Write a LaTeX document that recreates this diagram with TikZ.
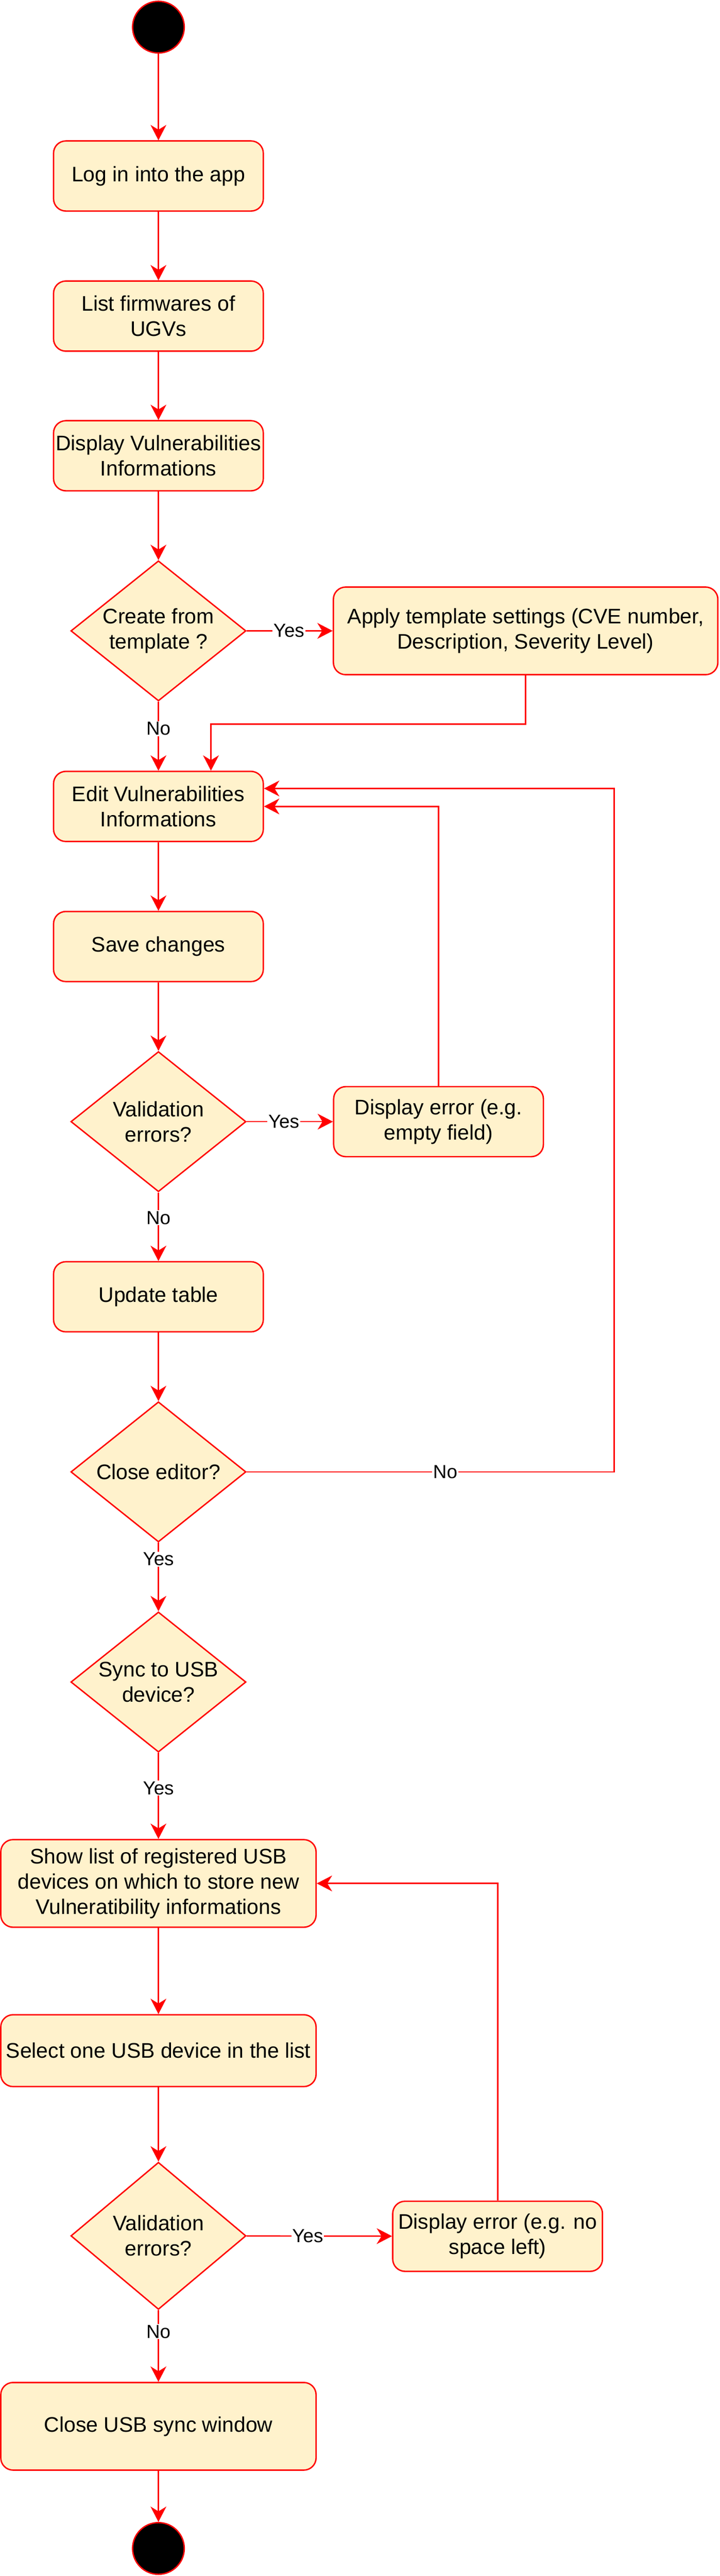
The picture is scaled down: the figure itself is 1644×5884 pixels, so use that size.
\documentclass[tikz,border=0pt]{standalone}
\usepackage{fontspec}
\setmainfont{Liberation Sans}
\usepackage{xcolor}
\usepackage{tikz}
\usetikzlibrary{arrows.meta, shapes.geometric, calc}

\definecolor{actfill}{HTML}{FFF2CC}
\newcommand{\actfont}{\fontsize{13.7pt}{16.4pt}\selectfont}
\newcommand{\lblfont}{\fontsize{12.3pt}{14pt}\selectfont}

\begin{document}
\begin{tikzpicture}[x=0.01cm, y=-0.01cm,
    act/.style={draw=red, fill=actfill, line width=0.9pt, rounded corners=0.28cm, align=center, font=\actfont, inner sep=0pt, minimum width=4.79cm, minimum height=1.6cm},
    wide/.style={act, minimum width=7.2cm},
    decision/.style={diamond, draw=red, fill=actfill, line width=0.9pt, align=center, font=\actfont, inner sep=0pt, aspect=1.25, minimum width=4cm, minimum height=3.2cm},
    terminal/.style={circle, draw=red, fill=black, line width=0.9pt, minimum size=1.18cm, inner sep=0pt},
    flow/.style={draw=red, line width=0.9pt, -{Stealth[length=0.35cm, width=0.36cm, inset=0.11cm]}},
    lbl/.style={fill=white, font=\lblfont, inner sep=0.6pt}]
    \useasboundingbox (0,0) rectangle (1644,5884);

    \node[terminal] (start) at (362,62) {};
    \node[act] (login) at (362,402) {Log in into the app};
    \node[act] (firm) at (362,722) {List firmwares of\\UGVs};
    \node[act] (vulns) at (362,1041) {Display Vulnerabilities\\Informations};
    \node[decision] (tmpl) at (362,1441) {Create from\\template ?};
    \node[act, minimum width=8.78cm, minimum height=2cm] (apply) at (1201,1441) {Apply template settings (CVE number,\\Description, Severity Level)};
    \node[act] (edit) at (362,1842) {Edit Vulnerabilities\\Informations};
    \node[act] (save) at (362,2162) {Save changes};
    \node[decision] (valid) at (362,2562) {Validation\\errors?};
    \node[act] (err) at (1002,2562) {Display error (e.g.\\empty field)};
    \node[act] (update) at (362,2962) {Update table};
    \node[decision] (closeed) at (362,3362) {Close editor?};
    \node[decision] (sync) at (362,3842) {Sync to USB\\device?};
    \node[wide, minimum height=2cm] (usblist) at (362,4302) {Show list of registered USB\\devices on which to store new\\Vulneratibility informations};
    \node[wide, minimum height=1.64cm] (usbsel) at (362,4684) {Select one USB device in the list};
    \node[decision, minimum height=3.36cm] (usbvalid) at (362,5107) {Validation\\errors?};
    \node[act] (usberr) at (1137,5108) {Display error (e.g. no\\space left)};
    \node[wide, minimum height=2cm] (usbclose) at (362,5542) {Close USB sync window};
    \node[terminal] (stop) at (362,5821) {};

    \draw[flow] (start) -- (login);
    \draw[flow] (login) -- (firm);
    \draw[flow] (firm) -- (vulns);
    \draw[flow] (vulns) -- (tmpl);
    \draw[flow] (tmpl) -- node[lbl, pos=0.49] {Yes} (apply);
    \draw[flow] (tmpl) -- node[lbl, pos=0.39] {No} (edit);
    \draw[flow] (apply.south) -- ++(0,111) -| ($(edit.north)+(120,0)$);
    \draw[flow] (edit) -- (save);
    \draw[flow] (save) -- (valid);
    \draw[flow] (valid) -- node[lbl, pos=0.43] {Yes} (err);
    \draw[flow] (err.north) |- (edit.east);
    \draw[flow] (valid) -- node[lbl, pos=0.37] {No} (update);
    \draw[flow] (update) -- (closeed);
    \draw[flow] (closeed.east) -- node[lbl, pos=0.54] {No} ++(840,0) |- ($(edit.east)+(0,-41)$);
    \draw[flow] (closeed) -- node[lbl, pos=0.24] {Yes} (sync);
    \draw[flow] (sync) -- node[lbl, pos=0.41] {Yes} (usblist);
    \draw[flow] (usblist) -- (usbsel);
    \draw[flow] (usbsel) -- (usbvalid);
    \draw[flow] (usbvalid) -- node[lbl, pos=0.42] {Yes} (usberr);
    \draw[flow] (usberr.north) |- (usblist.east);
    \draw[flow] (usbvalid) -- node[lbl, pos=0.3] {No} (usbclose);
    \draw[flow] (usbclose) -- (stop);
\end{tikzpicture}
\end{document}
